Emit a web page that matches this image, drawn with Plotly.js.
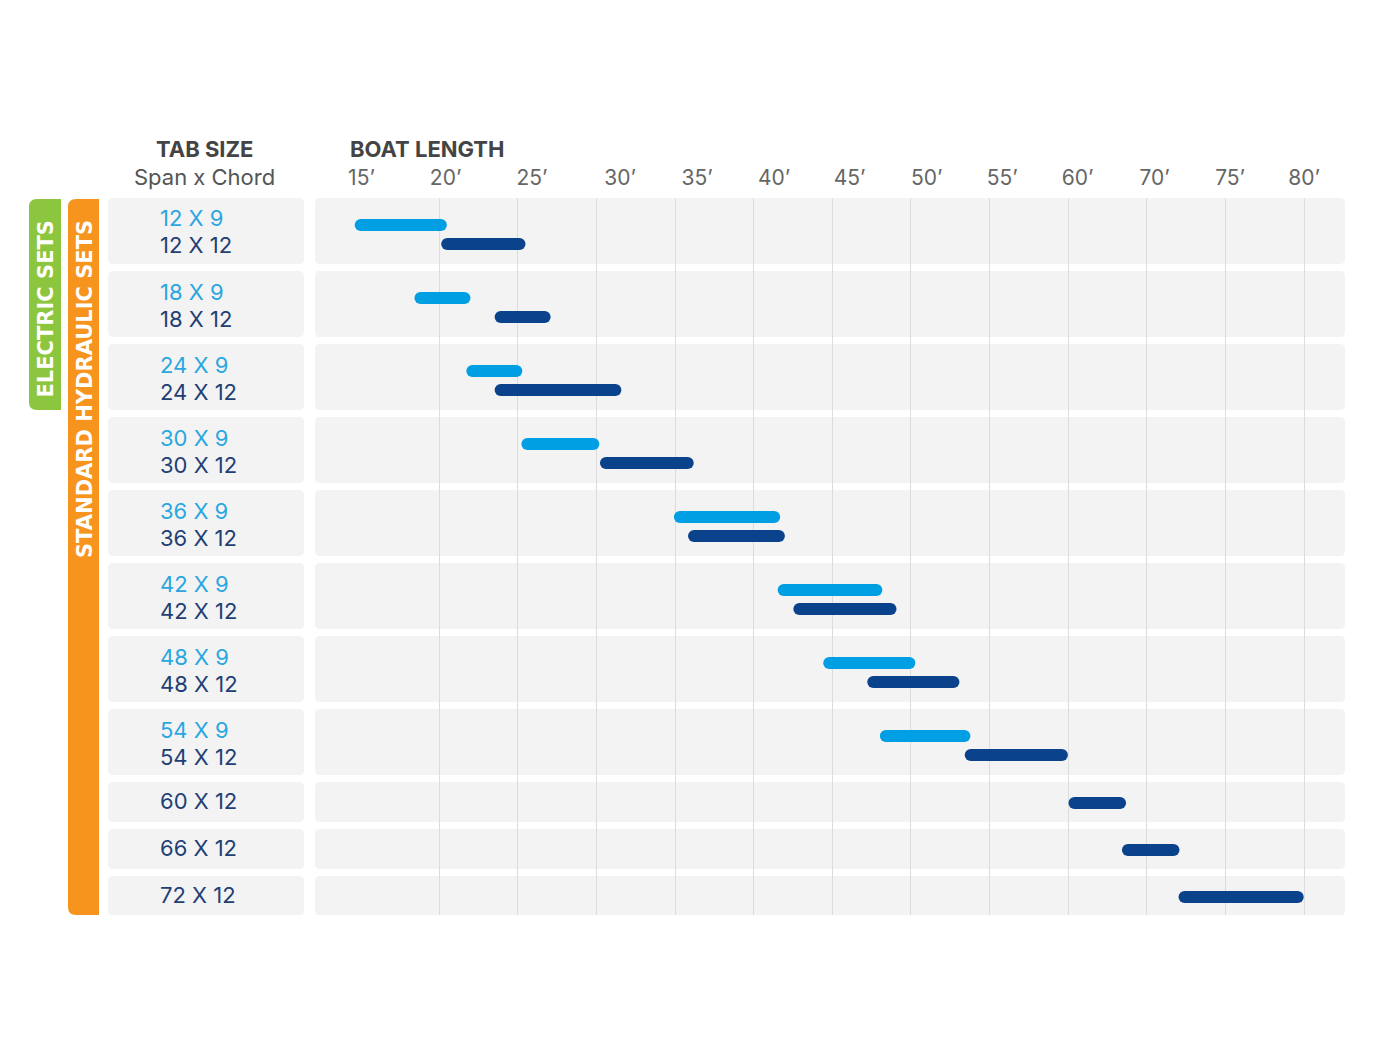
<!DOCTYPE html>
<html><head><meta charset="utf-8">
<script src="https://cdn.plot.ly/plotly-3.0.1.min.js"></script>
<style>html,body{margin:0;padding:0;background:#fff}</style>
</head><body><div id="chart" style="width:1384px;height:1049px"></div>
<script>
// ---- data (boat length, on the chart's own axis units) ----
const spans = [12, 18, 24, 30, 36, 42, 48, 54, 60, 66, 72];
const chord9Start  = [15.0, 18.8, 22.1, 25.6, 35.3, 41.9, 44.8, 48.4, null, null, null];
const chord9End    = [20.1, 21.6, 24.9, 29.8, 41.3, 47.8, 49.9, 53.4, null, null, null];
const chord12Start = [20.5, 23.9, 23.9, 30.6, 36.2, 42.9, 47.6, 53.8, 60.4, 63.8, 67.4];
const chord12End   = [25.1, 26.7, 31.2, 35.8, 41.6, 48.7, 52.7, 59.6, 63.3, 66.7, 74.6];
const gridTicks = [20, 25, 30, 35, 40, 45, 50, 55, 60, 65, 70, 75];
const lengthLabels = ["15’", "20’", "25’", "30’", "35’", "40’", "45’", "50’", "55’", "60’", "70’", "75’", "80’"];
const lengthLabelAt = [15.05, 20.4, 25.9, 31.5, 36.4, 41.3, 46.1, 51.0, 55.8, 60.6, 65.5, 70.3, 75.0];

// ---- layout helpers ----
const W = 1384, H = 1049;
const TOP = 198, H2 = 66, H1 = 40, GAP = 7;
const LIGHT = '#009fe3', DARK = '#0b428c';
const LIGHT_TXT = '#2aa6e0', DARK_TXT = '#223f74';
const PANEL = '#f3f3f3';
const FONT = 'Inter';
const XR = [12.093, 77.607];

const tops = [], heights = [];
let cur = TOP;
spans.forEach((s, i) => {
  const h = chord9Start[i] !== null ? H2 : H1;
  tops.push(cur); heights.push(h); cur += h + GAP;
});

const y9 = spans.map((s, i) => chord9Start[i] !== null ? tops[i] + 27 : null);
const y12 = spans.map((s, i) => chord9Start[i] !== null ? tops[i] + 46 : tops[i] + heights[i] / 2 + 1);

function segs(starts, ends, ys) {
  const x = [], y = [];
  starts.forEach((s, i) => {
    if (s === null) return;
    x.push(s, ends[i], null); y.push(ys[i], ys[i], null);
  });
  return {x, y};
}
const s9 = segs(chord9Start, chord9End, y9);
const s12 = segs(chord12Start, chord12End, y12);

function trace(s, color, name) {
  return {type: 'scatter', mode: 'lines+markers', x: s.x, y: s.y, name,
    line: {color, width: 12}, marker: {color, size: 12, symbol: 'circle', line: {width: 0}},
    hoverinfo: 'skip', showlegend: false};
}

function rrect(x0, y0, x1, y1, rtl, rtr, rbr, rbl) {
  const rx = r => r / W;
  const X0 = x0 / W, X1 = x1 / W;
  const f = v => (+v).toFixed(6);
  return `M${f(X0 + rx(rtl))},${y0} L${f(X1 - rx(rtr))},${y0} Q${f(X1)},${y0} ${f(X1)},${y0 + rtr} ` +
    `L${f(X1)},${y1 - rbr} Q${f(X1)},${y1} ${f(X1 - rx(rbr))},${y1} ` +
    `L${f(X0 + rx(rbl))},${y1} Q${f(X0)},${y1} ${f(X0)},${y1 - rbl} ` +
    `L${f(X0)},${y0 + rtl} Q${f(X0)},${y0} ${f(X0 + rx(rtl))},${y0} Z`;
}
function shape(path, color) {
  return {type: 'path', path, xref: 'paper', yref: 'y', fillcolor: color, line: {width: 0}, layer: 'below'};
}

const shapes = [];
spans.forEach((s, i) => {
  shapes.push(shape(rrect(108, tops[i], 304, tops[i] + heights[i], 5, 5, 5, 5), PANEL));
  shapes.push(shape(rrect(315, tops[i], 1345, tops[i] + heights[i], 5, 5, 5, 5), PANEL));
});
shapes.push(shape(rrect(29, 199, 61, 410, 8, 0, 0, 8), '#8cc63f'));
shapes.push(shape(rrect(68, 199, 99, 915, 8, 0, 0, 8), '#f7941e'));

const labelFont = c => ({family: FONT, size: 22, color: c});
const LX = 159 / W;
const annotations = [];
spans.forEach((s, i) => {
  if (chord9Start[i] !== null) {
    annotations.push({xref: 'paper', yref: 'y', x: LX, y: tops[i] + 20.5, xanchor: 'left', yanchor: 'middle',
      text: `${s} X 9`, showarrow: false, borderpad: 0, font: labelFont(LIGHT_TXT)});
    annotations.push({xref: 'paper', yref: 'y', x: LX, y: tops[i] + 47.5, xanchor: 'left', yanchor: 'middle',
      text: `${s} X 12`, showarrow: false, borderpad: 0, font: labelFont(DARK_TXT)});
  } else {
    annotations.push({xref: 'paper', yref: 'y', x: LX, y: tops[i] + heights[i] / 2 - 1.5, xanchor: 'left', yanchor: 'middle',
      text: `${s} X 12`, showarrow: false, borderpad: 0, font: labelFont(DARK_TXT)});
  }
});
annotations.push({xref: 'paper', yref: 'y', x: 45.5 / W, y: 309, textangle: -90, text: 'ELECTRIC SETS', showarrow: false,
  xanchor: 'center', yanchor: 'middle', font: {family: 'DejaVu Sans', size: 21, weight: 700, color: '#ffffff'}});
annotations.push({xref: 'paper', yref: 'y', x: 84.5 / W, y: 389.5, textangle: -90, text: 'STANDARD HYDRAULIC SETS', showarrow: false,
  xanchor: 'center', yanchor: 'middle', font: {family: 'DejaVu Sans', size: 21, weight: 700, color: '#ffffff'}});
annotations.push({xref: 'paper', yref: 'paper', x: 205 / W, y: 1 - 149 / H, xanchor: 'center', yanchor: 'middle',
  text: 'TAB SIZE', showarrow: false, borderpad: 0, font: {family: FONT, size: 22, weight: 700, color: '#444444'}});
annotations.push({xref: 'paper', yref: 'paper', x: 205 / W, y: 1 - 177 / H, xanchor: 'center', yanchor: 'middle',
  text: 'Span x Chord', showarrow: false, borderpad: 0, font: {family: FONT, size: 22, color: '#555555'}});
annotations.push({xref: 'paper', yref: 'paper', x: 349 / W, y: 1 - 149 / H, xanchor: 'left', yanchor: 'middle',
  text: 'BOAT LENGTH', showarrow: false, borderpad: 0, font: {family: FONT, size: 22, weight: 700, color: '#444444'}});

const layout = {
  width: W, height: H, margin: {l: 0, r: 0, t: 0, b: 0},
  paper_bgcolor: '#ffffff', plot_bgcolor: 'rgba(0,0,0,0)',
  showlegend: false, hovermode: false,
  xaxis: {domain: [315 / W, 1345 / W], range: XR, tickmode: 'array', tickvals: gridTicks, showticklabels: false,
    showgrid: true, gridcolor: '#dcdcdc', gridwidth: 1, zeroline: false, showline: false, ticks: '', automargin: false, fixedrange: true},
  xaxis2: {overlaying: 'x', side: 'top', anchor: 'y', domain: [315 / W, 1345 / W], range: XR, tickmode: 'array',
    tickvals: lengthLabelAt, ticktext: lengthLabels, showgrid: false, zeroline: false, showline: false, ticks: '',
    ticklabelstandoff: 8, tickfont: {family: FONT, size: 21, color: '#666666'}, automargin: false, fixedrange: true},
  yaxis: {domain: [(H - 915) / H, (H - 198) / H], range: [915, 198], visible: false, fixedrange: true, automargin: false},
  shapes, annotations
};

const data = [trace(s9, LIGHT, '9 chord'), trace(s12, DARK, '12 chord'),
  {type: 'scatter', x: [XR[0]], y: [900], xaxis: 'x2', mode: 'markers', marker: {opacity: 0}, hoverinfo: 'skip', showlegend: false}];

Plotly.newPlot('chart', data, layout, {displayModeBar: false, staticPlot: true});
</script></body></html>
